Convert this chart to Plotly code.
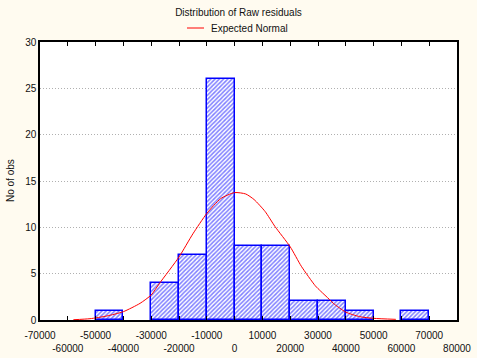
import plotly.graph_objects as go

# Histogram data (bin centers, counts), bin width 10000
bin_centers = [-45000, -25000, -15000, -5000, 5000, 15000, 25000, 35000, 45000, 65000]
counts = [1, 4, 7, 26, 8, 8, 2, 2, 1, 1]
bin_width = 10000

# Expected normal curve points
curve_x = [-58000, -52000, -46000, -40000, -34000, -30000, -27000, -20000, -15000,
           -10000, -5000, 0, 4000, 7000, 11000, 14500, 20000, 24000, 29000, 31000,
           34000, 35500, 40000, 45000, 50000, 58000]
curve_y = [0.03, 0.14, 0.43, 0.9, 1.8, 2.7, 3.96, 6.8, 9.3,
           11.5, 13.1, 13.75, 13.6, 13.0, 11.7, 10.1, 7.9, 5.8, 3.7, 3.1,
           2.25, 1.8, 0.85, 0.36, 0.18, 0.07]

x_ticks = list(range(-70000, 80001, 10000))
x_ticktext = [str(v) if i % 2 == 0 else "<br>" + str(v) for i, v in enumerate(x_ticks)]
y_ticks = [0, 5, 10, 15, 20, 25, 30]

W, H = 477, 358

fig = go.Figure()
fig.add_trace(go.Bar(
    x=bin_centers, y=counts, width=[bin_width] * len(counts),
    marker=dict(color="white", line=dict(color="#0000FF", width=1.5),
                pattern=dict(shape="/", fgcolor="#0000FF", bgcolor="white",
                             size=3, solidity=0.5)),
    showlegend=False, hoverinfo="skip"))
fig.add_trace(go.Scatter(
    x=curve_x, y=curve_y, mode="lines", name="Expected Normal",
    line=dict(color="#FF0000", width=1, shape="spline", smoothing=0.6),
    showlegend=False, hoverinfo="skip"))

# legend drawn as a line sample plus text
fig.add_shape(type="line", xref="paper", yref="paper",
              x0=(187 - 40) / 417, x1=(204 - 40) / 417,
              y0=(320 - 28) / 278, y1=(320 - 28) / 278,
              line=dict(color="#FF0000", width=1))
fig.add_annotation(text="Expected Normal", xref="paper", yref="paper",
                   x=(209 - 40) / 417, y=(320 - 28) / 278, xanchor="left",
                   yanchor="middle", showarrow=False, font=dict(size=10))
# y-axis title
fig.add_annotation(text="No of obs", xref="paper", yref="paper",
                   x=(10 - 40) / 417, y=0.5, xanchor="center", yanchor="middle",
                   textangle=-90, showarrow=False, font=dict(size=10))

font = dict(family="Liberation Sans, Arial, sans-serif", size=10, color="#111111")
fig.update_layout(
    width=W, height=H,
    margin=dict(l=40, r=20, t=42, b=38, autoexpand=False),
    paper_bgcolor="#FFFBF0", plot_bgcolor="white",
    font=font, bargap=0, showlegend=False,
    title=dict(text="Distribution of Raw residuals", x=0.5, xanchor="center",
               xref="container", y=1 - 12 / H, yanchor="middle", font=dict(size=10)),
    xaxis=dict(range=[-70000, 80000], tickvals=x_ticks, ticktext=x_ticktext,
               ticks="inside", ticklen=4, tickcolor="black", showgrid=False,
               showline=True, linecolor="black", linewidth=1.5, mirror="ticks",
               zeroline=False, tickangle=0, automargin=False,
               ticklabelstandoff=5),
    yaxis=dict(range=[0, 30], tickvals=y_ticks, ticks="", showgrid=True,
               gridcolor="#B0B0B0", griddash="1px,2px", gridwidth=1,
               showline=True, linecolor="black", linewidth=1.5, mirror=True,
               zeroline=False, automargin=False),
)
fig.write_html("out.html",
               config={"displayModeBar": False},
               post_script="document.body.style.margin='0';"
                           "document.body.style.background='#FFFBF0';"
                           "document.body.style.overflow='hidden';")
